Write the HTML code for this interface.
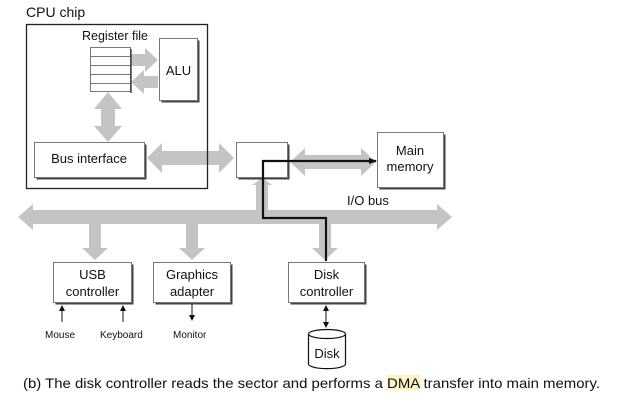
<!DOCTYPE html>
<html><head><meta charset="utf-8"><style>
html,body{margin:0;padding:0;background:#fff}
svg{display:block}
text{font-family:"Liberation Sans",sans-serif;fill:#111}
</style></head><body>
<svg width="634" height="406" viewBox="0 0 634 406" xmlns="http://www.w3.org/2000/svg">
<defs>
<marker id="ah" markerWidth="8" markerHeight="8" refX="7" refY="4" orient="auto" markerUnits="userSpaceOnUse"><path d="M0,1 L8,4 L0,7 Z" fill="#111"/></marker>
<marker id="sa" markerWidth="6" markerHeight="6" refX="5" refY="3" orient="auto" markerUnits="userSpaceOnUse"><path d="M0,0 L6,3 L0,6 Z" fill="#111"/></marker>
<marker id="sb" markerWidth="6" markerHeight="6" refX="1" refY="3" orient="auto" markerUnits="userSpaceOnUse"><path d="M6,0 L0,3 L6,6 Z" fill="#111"/></marker>
</defs>
<g fill="#c4c4c4">
<path d="M131,54 h14 v-6 l13,12 l-13,12 v-6 h-14 z"/>
<path d="M158,76 h-14 v-6 l-13,12 l13,12 v-6 h14 z"/>
<path d="M108,92 l-14,17 h7 v17 h-7 l14,16 l14,-16 h-7 v-17 h7 z"/>
<path d="M147,158 l15,-15 v8 h57 v-8 l15,15 l-15,15 v-8 h-57 v8 z"/>
<path d="M290,162 l15,-14 v7 h56 v-7 l15,14 l-15,14 v-7 h-56 v7 z"/>
<path d="M18,217 l15,-13 v6 h404 v-6 l15,13 l-15,13 v-6 h-404 v6 z"/>
<path d="M256,211 v-26 h-4 l10,-7 l10,7 h-4 v26 z"/>
<path d="M89,224 v24 h-7 l13,12 l13,-12 h-7 v-24 z"/>
<path d="M186,224 v24 h-7 l13,12 l13,-12 h-7 v-24 z"/>
<path d="M319,224 v24 h-7 l13,12 l13,-12 h-7 v-24 z"/>
</g>
<text x="26" y="17" font-size="14">CPU chip</text>
<rect x="26.5" y="24.5" width="181" height="164" fill="none" stroke="#222" stroke-width="1.3"/>
<text x="115" y="40" font-size="12.5" text-anchor="middle">Register file</text>
<rect x="90.5" y="47.5" width="40" height="44" fill="#fff" stroke="#777" stroke-width="1"/>
<g stroke="#777" stroke-width="1"><line x1="90" y1="56.5" x2="131" y2="56.5"/><line x1="90" y1="65.5" x2="131" y2="65.5"/><line x1="90" y1="74.5" x2="131" y2="74.5"/><line x1="90" y1="83.5" x2="131" y2="83.5"/></g>
<line x1="131" y1="49" x2="131" y2="93" stroke="#333" stroke-width="1.3"/>
<rect x="161.5" y="40.5" width="38" height="62" fill="#444"/>
<rect x="159.5" y="38.5" width="38" height="62" fill="#fff" stroke="#777"/>
<text x="178.5" y="75" font-size="13" text-anchor="middle">ALU</text>
<rect x="36.5" y="144.5" width="110" height="35" fill="#444"/>
<rect x="34.5" y="142.5" width="110" height="35" fill="#fff" stroke="#777"/>
<text x="89" y="163" font-size="13" text-anchor="middle">Bus interface</text>
<rect x="238.5" y="144.5" width="51" height="35" fill="#444"/>
<rect x="236.5" y="142.5" width="51" height="35" fill="#fff" stroke="#777"/>
<rect x="379.5" y="134.5" width="66" height="55" fill="#444"/>
<rect x="377.5" y="132.5" width="66" height="55" fill="#fff" stroke="#777"/>
<text x="410" y="155" font-size="13" text-anchor="middle">Main</text>
<text x="410" y="171" font-size="13" text-anchor="middle">memory</text>
<text x="347" y="205" font-size="13">I/O bus</text>
<path d="M326,261 V218 H263 V161 H376" fill="none" stroke="#111" stroke-width="2.2" marker-end="url(#ah)"/>
<rect x="55.5" y="264.5" width="78" height="40" fill="#444"/>
<rect x="53.5" y="262.5" width="78" height="40" fill="#fff" stroke="#777"/>
<text x="92.5" y="279" font-size="13" text-anchor="middle">USB</text>
<text x="92.5" y="296" font-size="13" text-anchor="middle">controller</text>
<rect x="155.5" y="264.5" width="77" height="40" fill="#444"/>
<rect x="153.5" y="262.5" width="77" height="40" fill="#fff" stroke="#777"/>
<text x="192" y="279" font-size="13" text-anchor="middle">Graphics</text>
<text x="192" y="296" font-size="13" text-anchor="middle">adapter</text>
<rect x="290.5" y="264.5" width="76" height="40" fill="#444"/>
<rect x="288.5" y="262.5" width="76" height="40" fill="#fff" stroke="#777"/>
<text x="326.5" y="279" font-size="13" text-anchor="middle">Disk</text>
<text x="326.5" y="296" font-size="13" text-anchor="middle">controller</text>
<g stroke="#111" stroke-width="1">
<line x1="62" y1="322" x2="62" y2="306" marker-end="url(#sa)"/>
<line x1="123" y1="322" x2="123" y2="306" marker-end="url(#sa)"/>
<line x1="192" y1="304" x2="192" y2="320" marker-end="url(#sa)"/>
<line x1="326" y1="306" x2="326" y2="327" marker-end="url(#sa)" marker-start="url(#sb)"/>
</g>
<text x="45" y="338" font-size="10">Mouse</text>
<text x="100" y="338" font-size="10">Keyboard</text>
<text x="173" y="338" font-size="10">Monitor</text>
<path d="M308.5,334 V364 A18,4.5 0 0 0 345.5,364 V334" fill="#fff" stroke="#111" stroke-width="1.2"/>
<ellipse cx="327" cy="334" rx="18.5" ry="4.5" fill="#fff" stroke="#111" stroke-width="1.2"/>
<text x="327" y="358" font-size="13" text-anchor="middle">Disk</text>
<rect x="387" y="375" width="34" height="15" fill="#fdf3c4"/>
<text x="23" y="388" font-size="14" textLength="577" lengthAdjust="spacingAndGlyphs">(b) The disk controller reads the sector and performs a DMA transfer into main memory.</text>
</svg>
</body></html>
